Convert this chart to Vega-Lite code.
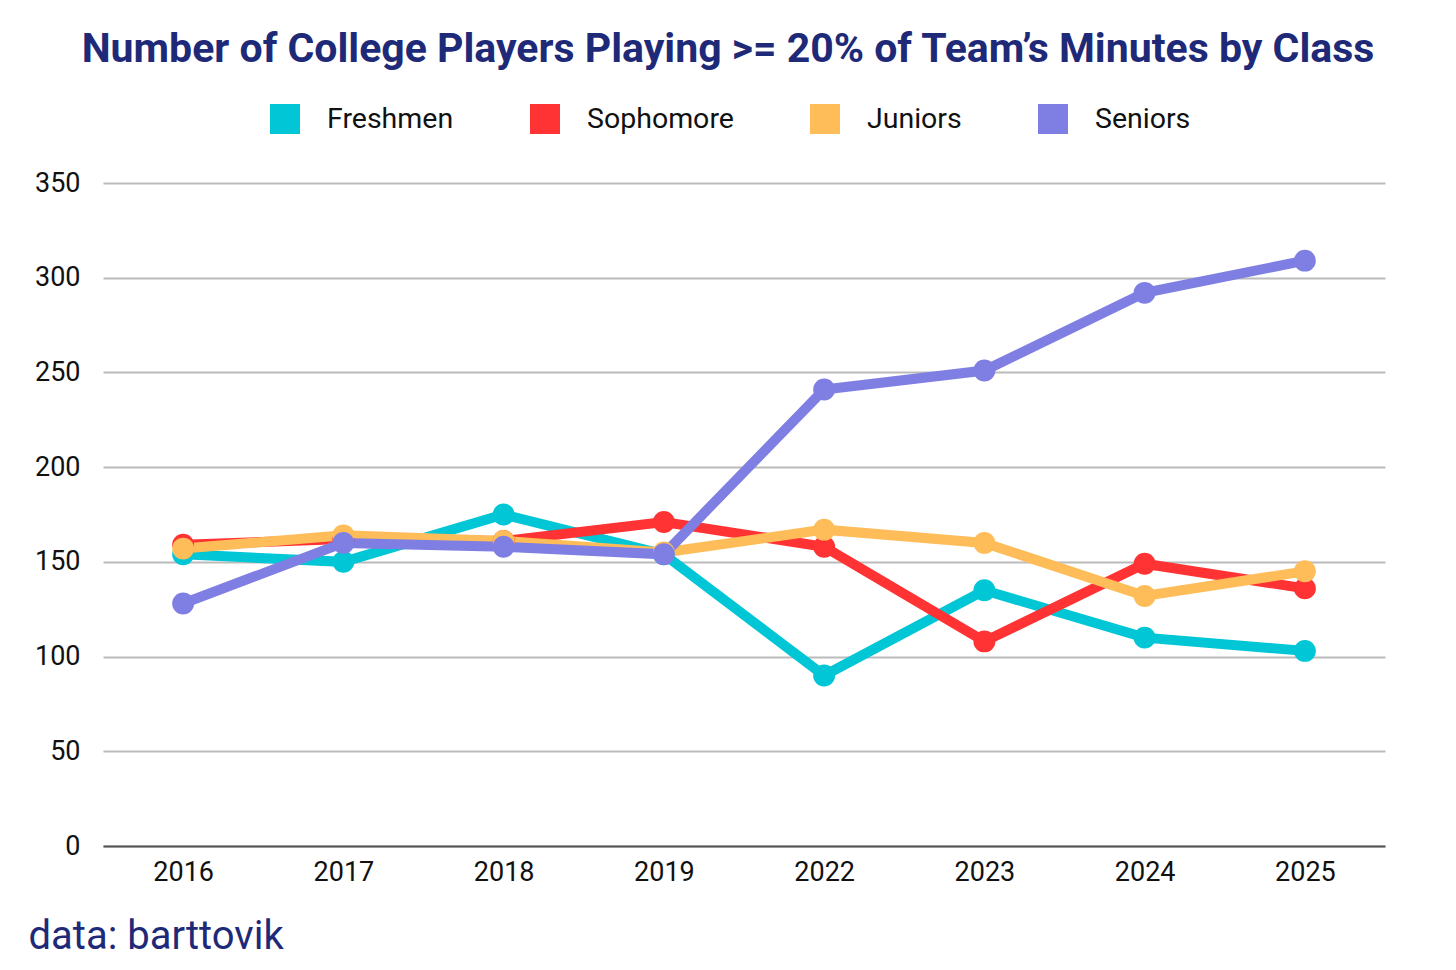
{
  "$schema": "https://vega.github.io/schema/vega-lite/v6.json",
  "autosize": {"type": "none"},
  "width": 1282,
  "height": 663,
  "padding": {"left": 103, "top": 183, "right": 71, "bottom": 124},
  "background": "white",
  "title": {
    "text": "Number of College Players Playing >= 20% of Team’s Minutes by Class",
    "anchor": "middle",
    "frame": "group",
    "dx": -16,
    "offset": 33,
    "font": "Roboto",
    "fontSize": 41,
    "fontWeight": "bold",
    "color": "#1e2a78"
  },
  "config": {
    "view": {"stroke": null},
    "font": "Roboto"
  },
  "data": {
    "values": [
      {"Year": "2016", "Class": "Freshmen", "Players": 154},
      {"Year": "2017", "Class": "Freshmen", "Players": 150},
      {"Year": "2018", "Class": "Freshmen", "Players": 175},
      {"Year": "2019", "Class": "Freshmen", "Players": 154},
      {"Year": "2022", "Class": "Freshmen", "Players": 90},
      {"Year": "2023", "Class": "Freshmen", "Players": 135},
      {"Year": "2024", "Class": "Freshmen", "Players": 110},
      {"Year": "2025", "Class": "Freshmen", "Players": 103},
      {"Year": "2016", "Class": "Sophomore", "Players": 159},
      {"Year": "2017", "Class": "Sophomore", "Players": 162},
      {"Year": "2018", "Class": "Sophomore", "Players": 161},
      {"Year": "2019", "Class": "Sophomore", "Players": 171},
      {"Year": "2022", "Class": "Sophomore", "Players": 158},
      {"Year": "2023", "Class": "Sophomore", "Players": 108},
      {"Year": "2024", "Class": "Sophomore", "Players": 149},
      {"Year": "2025", "Class": "Sophomore", "Players": 136},
      {"Year": "2016", "Class": "Juniors", "Players": 157},
      {"Year": "2017", "Class": "Juniors", "Players": 164},
      {"Year": "2018", "Class": "Juniors", "Players": 161},
      {"Year": "2019", "Class": "Juniors", "Players": 155},
      {"Year": "2022", "Class": "Juniors", "Players": 167},
      {"Year": "2023", "Class": "Juniors", "Players": 160},
      {"Year": "2024", "Class": "Juniors", "Players": 132},
      {"Year": "2025", "Class": "Juniors", "Players": 145},
      {"Year": "2016", "Class": "Seniors", "Players": 128},
      {"Year": "2017", "Class": "Seniors", "Players": 160},
      {"Year": "2018", "Class": "Seniors", "Players": 158},
      {"Year": "2019", "Class": "Seniors", "Players": 154},
      {"Year": "2022", "Class": "Seniors", "Players": 241},
      {"Year": "2023", "Class": "Seniors", "Players": 251},
      {"Year": "2024", "Class": "Seniors", "Players": 292},
      {"Year": "2025", "Class": "Seniors", "Players": 309}
    ]
  },
  "encoding": {
    "x": {
      "field": "Year",
      "type": "ordinal",
      "scale": {"type": "point", "padding": 0.5},
      "axis": {
        "title": "data: barttovik",
        "titleFont": "Roboto",
        "titleFontSize": 40,
        "titleFontWeight": "normal",
        "titleColor": "#1e2a78",
        "titleAnchor": "start",
        "titleAlign": "left",
        "titleBaseline": "alphabetic",
        "titleX": -75,
        "titleY": 102,
        "labelAngle": 0,
        "labelFontSize": 27,
        "labelColor": "#111111",
        "labelPadding": 13,
        "ticks": false,
        "domainColor": "#555555",
        "domainWidth": 2,
        "grid": false
      }
    },
    "y": {
      "field": "Players",
      "type": "quantitative",
      "scale": {"domain": [0, 350]},
      "axis": {
        "title": null,
        "values": [0, 50, 100, 150, 200, 250, 300, 350],
        "labelFontSize": 27,
        "labelColor": "#111111",
        "labelPadding": 23,
        "ticks": false,
        "domain": false,
        "gridColor": "#bbbbbb",
        "gridWidth": 2
      }
    },
    "color": {
      "field": "Class",
      "type": "nominal",
      "sort": ["Freshmen", "Sophomore", "Juniors", "Seniors"],
      "scale": {
        "domain": ["Freshmen", "Sophomore", "Juniors", "Seniors"],
        "range": ["#00c6d6", "#ff3333", "#ffbd59", "#7f7fe3"]
      },
      "legend": {
        "title": null,
        "orient": "none",
        "direction": "horizontal",
        "legendX": 167,
        "legendY": -79,
        "symbolType": "square",
        "symbolSize": 900,
        "symbolStrokeWidth": 0,
        "symbolOpacity": 1,
        "labelFontSize": 28.5,
        "labelColor": "#111111",
        "labelOffset": 27,
        "columnPadding": 76
      }
    }
  },
  "layer": [
    {
      "mark": {"type": "line", "strokeWidth": 10}
    },
    {
      "mark": {"type": "circle", "size": 480, "opacity": 1}
    }
  ]
}
